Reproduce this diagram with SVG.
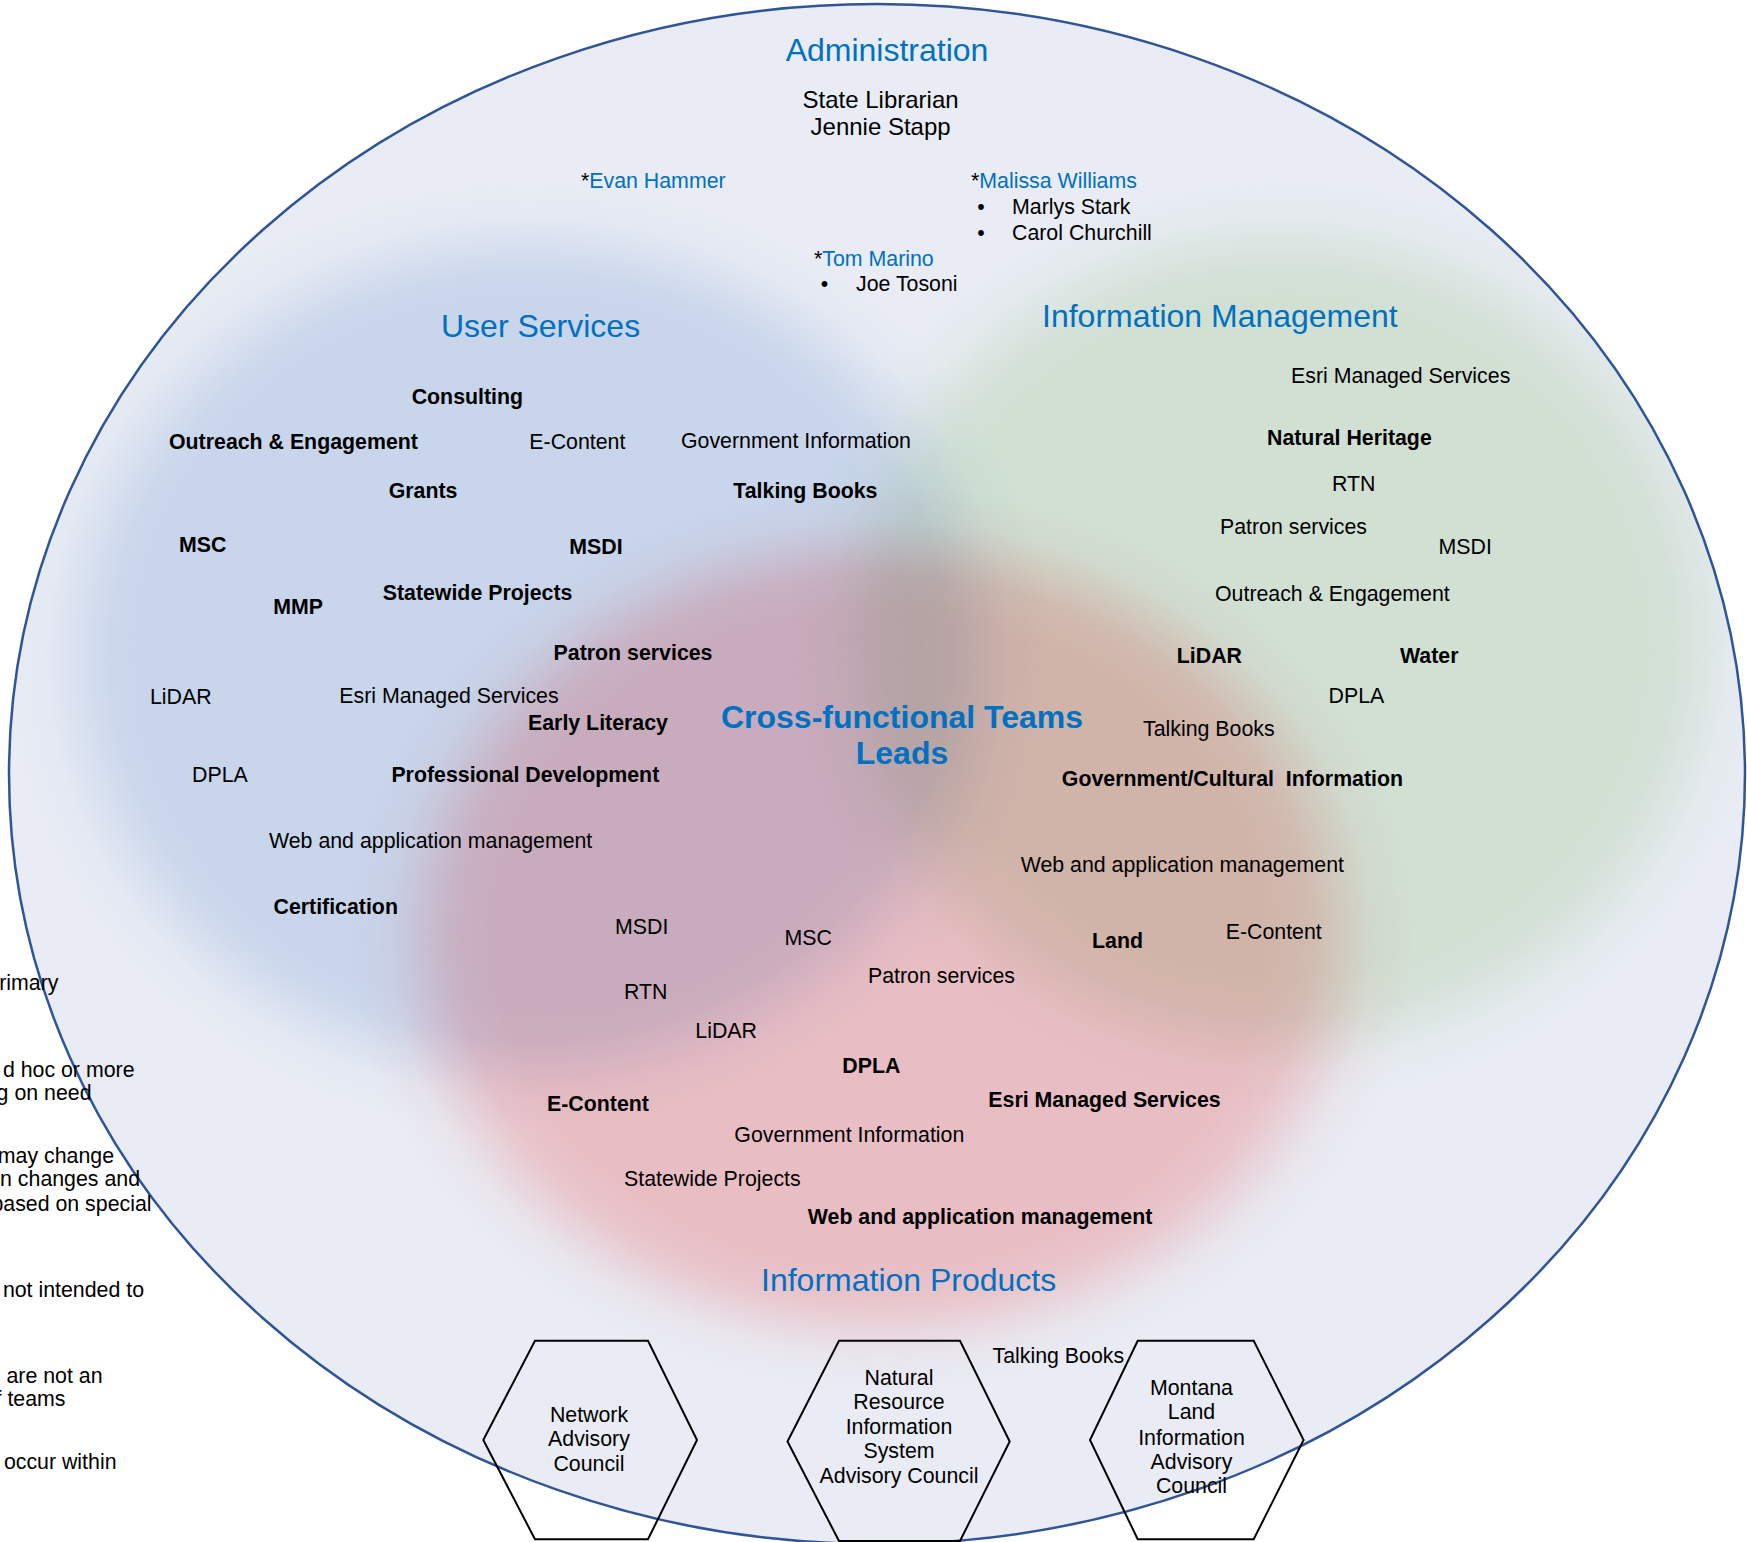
<svg xmlns="http://www.w3.org/2000/svg" width="1747" height="1542" viewBox="0 0 1747 1542">
<style>
text{font-family:"Liberation Sans",Arial,sans-serif;font-size:21.33px;fill:#000}
.b{font-weight:bold}
.h{font-size:32px;fill:#0070C0}
.s{font-size:24px}
.n{fill:#0070C0}
.c{text-anchor:middle}
.e{text-anchor:end}
.hex{fill:none;stroke:#000;stroke-width:2}
.blend{mix-blend-mode:multiply}
</style>
<defs>
<clipPath id="clipE"><ellipse cx="877" cy="774" rx="868" ry="770"/></clipPath>
<radialGradient id="gB">
<stop offset="0" stop-color="#DBE6F6"/><stop offset="0.72" stop-color="#DBE6F6"/><stop offset="0.8" stop-color="#DBE6F6" stop-opacity="0.85"/><stop offset="0.86" stop-color="#DBE6F6" stop-opacity="0.5"/><stop offset="0.92" stop-color="#DBE6F6" stop-opacity="0.15"/><stop offset="1" stop-color="#DBE6F6" stop-opacity="0"/>
</radialGradient>
<radialGradient id="gG">
<stop offset="0" stop-color="#E5F2DD"/><stop offset="0.72" stop-color="#E5F2DD"/><stop offset="0.8" stop-color="#E5F2DD" stop-opacity="0.85"/><stop offset="0.86" stop-color="#E5F2DD" stop-opacity="0.5"/><stop offset="0.92" stop-color="#E5F2DD" stop-opacity="0.15"/><stop offset="1" stop-color="#E5F2DD" stop-opacity="0"/>
</radialGradient>
<radialGradient id="gP">
<stop offset="0" stop-color="#FFCDCD"/><stop offset="0.72" stop-color="#FFCDCD"/><stop offset="0.8" stop-color="#FFCDCD" stop-opacity="0.85"/><stop offset="0.86" stop-color="#FFCDCD" stop-opacity="0.5"/><stop offset="0.92" stop-color="#FFCDCD" stop-opacity="0.15"/><stop offset="1" stop-color="#FFCDCD" stop-opacity="0"/>
</radialGradient>
</defs>
<rect width="1747" height="1542" fill="#fff"/>
<g id="background" style="isolation:isolate">
<ellipse cx="877" cy="774" rx="868" ry="770" fill="#E9ECF4"/>
<ellipse class="blend" clip-path="url(#clipE)" cx="529" cy="657" rx="524" ry="479" fill="url(#gB)"/>
<ellipse class="blend" clip-path="url(#clipE)" cx="1281" cy="641" rx="493" ry="466" fill="url(#gG)"/>
<ellipse class="blend" clip-path="url(#clipE)" cx="882" cy="938" rx="534" ry="453" fill="url(#gP)"/>
<ellipse cx="877" cy="774" rx="868" ry="770" fill="none" stroke="#2F5597" stroke-width="2.5"/>
</g>
<g id="connectors"></g>

<g id="administration">
<text class="h c" x="887" y="61">Administration</text>
<text class="s c" x="880.6" y="108">State Librarian</text>
<text class="s c" x="880.6" y="134.5">Jennie Stapp</text>
<text x="581" y="188">*<tspan class="n">Evan Hammer</tspan></text>
<text x="971" y="188">*<tspan class="n">Malissa Williams</tspan></text>
<text class="c" x="981" y="214">•</text><text x="1012" y="214">Marlys Stark</text>
<text class="c" x="981" y="240">•</text><text x="1012" y="240">Carol Churchill</text>
<text x="814" y="266">*<tspan class="n">Tom Marino</tspan></text>
<text class="c" x="824.5" y="291">•</text><text x="856" y="291">Joe Tosoni</text>
</g>

<g id="user-services">
<text class="h" x="441" y="337">User Services</text>
<text class="b" x="411.7" y="404">Consulting</text>
<text class="b" x="169" y="449">Outreach &amp; Engagement</text>
<text x="529.3" y="449">E-Content</text>
<text x="681" y="448.3">Government Information</text>
<text class="b" x="388.7" y="497.7">Grants</text>
<text class="b" x="733.3" y="497.5">Talking Books</text>
<text class="b" x="179" y="552">MSC</text>
<text class="b" x="569.3" y="554.3">MSDI</text>
<text class="b" x="382.7" y="599.5">Statewide Projects</text>
<text class="b" x="273.3" y="614.3">MMP</text>
<text class="b" x="553.6" y="660">Patron services</text>
<text x="150" y="704">LiDAR</text>
<text x="339.3" y="703.3">Esri Managed Services</text>
<text class="b" x="528" y="730">Early Literacy</text>
<text x="192" y="781.7">DPLA</text>
<text class="b" x="391.4" y="781.7">Professional Development</text>
<text x="269" y="848.3">Web and application management</text>
<text class="b" x="273.5" y="914">Certification</text>
</g>

<g id="information-management">
<text class="h" x="1042" y="327">Information Management</text>
<text x="1291" y="383.3">Esri Managed Services</text>
<text class="b" x="1267" y="445">Natural Heritage</text>
<text x="1332" y="490.7">RTN</text>
<text x="1220" y="534">Patron services</text>
<text x="1438.6" y="554.3">MSDI</text>
<text x="1215" y="600.7">Outreach &amp; Engagement</text>
<text class="b" x="1176.8" y="663.3">LiDAR</text>
<text class="b" x="1400" y="663.3">Water</text>
<text x="1328.6" y="702.7">DPLA</text>
<text x="1143" y="736">Talking Books</text>
<text class="b" x="1061.8" y="786" xml:space="preserve">Government/Cultural  Information</text>
<text x="1020.7" y="871.7">Web and application management</text>
<text x="1225.7" y="939">E-Content</text>
<text class="b" x="1092" y="948">Land</text>
</g>

<g id="cross-functional">
<text class="h b c" x="902" y="728">Cross-functional Teams</text>
<text class="h b c" x="902" y="764">Leads</text>
</g>

<g id="information-products">
<text x="615" y="933.5">MSDI</text>
<text x="784.4" y="944.6">MSC</text>
<text x="868" y="982.6">Patron services</text>
<text x="624" y="999">RTN</text>
<text x="695.3" y="1038">LiDAR</text>
<text class="b" x="842.3" y="1073">DPLA</text>
<text class="b" x="547" y="1111">E-Content</text>
<text class="b" x="988.3" y="1107">Esri Managed Services</text>
<text x="734.3" y="1142">Government Information</text>
<text x="624" y="1186">Statewide Projects</text>
<text class="b" x="807.8" y="1224">Web and application management</text>
<text class="h" x="761" y="1291">Information Products</text>
</g>

<g id="talking-books-bottom">
<text x="992.5" y="1362.7">Talking Books</text>
</g>

<g id="network-advisory-council">
<polygon class="hex" points="535,1340.7 648,1340.7 697,1440 648,1539.3 535,1539.3 483.3,1440"/>
<text class="c" x="589" y="1421.5">Network</text>
<text class="c" x="589" y="1446">Advisory</text>
<text class="c" x="589" y="1470.5">Council</text>
</g>
<g id="nris-advisory-council">
<polygon class="hex" points="839,1340.7 960,1340.7 1009.7,1441.5 960,1541 839,1541 787.5,1441.5"/>
<text class="c" x="899" y="1385">Natural</text>
<text class="c" x="899" y="1409.3">Resource</text>
<text class="c" x="899" y="1433.5">Information</text>
<text class="c" x="899" y="1458">System</text>
<text class="c" x="899" y="1482.7">Advisory Council</text>
</g>
<g id="mlia-council">
<polygon class="hex" points="1137.7,1340.7 1253.7,1340.7 1303.6,1440 1253.7,1539.3 1137.7,1539.3 1090,1440"/>
<text class="c" x="1191.5" y="1395">Montana</text>
<text class="c" x="1191.5" y="1419.3">Land</text>
<text class="c" x="1191.5" y="1444.5">Information</text>
<text class="c" x="1191.5" y="1469">Advisory</text>
<text class="c" x="1191.5" y="1493.3">Council</text>
</g>

<g id="side-notes">
<text class="e" x="58.5" y="990">rimary</text>
<text class="e" x="134.5" y="1076.5">d hoc or more</text>
<text class="e" x="91.5" y="1100">g on need</text>
<text class="e" x="114" y="1163">may change</text>
<text class="e" x="140" y="1185.7">n changes and</text>
<text class="e" x="151.5" y="1211">based on special</text>
<text class="e" x="144" y="1296.5">not intended to</text>
<text class="e" x="102.5" y="1383">are not an</text>
<text class="e" x="65.5" y="1406">f teams</text>
<text class="e" x="116.5" y="1468.5">occur within</text>
</g>
</svg>
